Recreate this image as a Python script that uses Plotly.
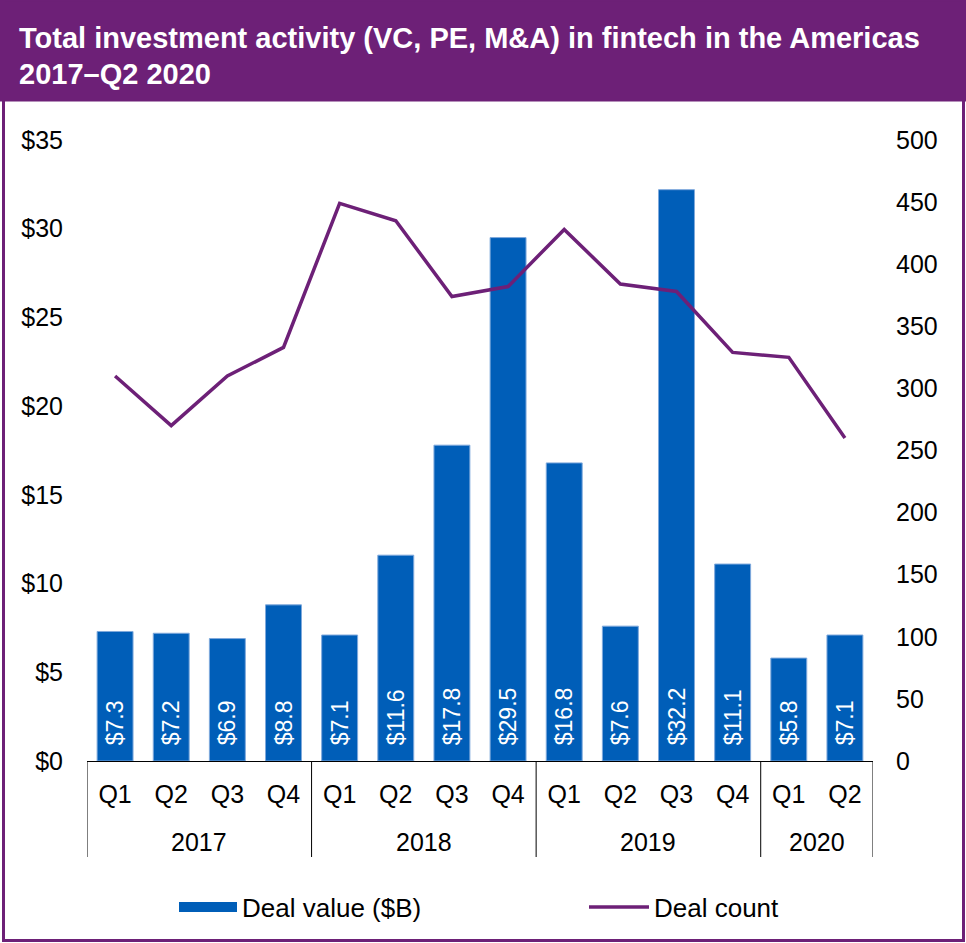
import plotly.graph_objects as go

years = ["2017"] * 4 + ["2018"] * 4 + ["2019"] * 4 + ["2020"] * 2
quarters = ["Q1", "Q2", "Q3", "Q4"] * 3 + ["Q1", "Q2"]
deal_value = [7.3, 7.2, 6.9, 8.8, 7.1, 11.6, 17.8, 29.5, 16.8, 7.6, 32.2, 11.1, 5.8, 7.1]
deal_count = [310, 270, 310, 333, 449, 435, 374, 382, 428, 384, 378, 329, 325, 260]

W, H = 966, 943
ML, MR, MT, MB = 87, 93, 140, 182
PW, PH = W - ML - MR, H - MT - MB

def px(x):
    return (x - ML) / PW

def py(y):
    return (H - MB - y) / PH

PURPLE = "#6D2077"
BLUE = "#005EB8"
FONT = "Liberation Sans, Arial, sans-serif"

idx = list(range(len(quarters)))

# year groups derived from data
groups = []
for i, yv in enumerate(years):
    if not groups or groups[-1][0] != yv:
        groups.append([yv, i, i])
    else:
        groups[-1][2] = i

fig = go.Figure()
fig.add_trace(go.Bar(
    x=idx, y=deal_value, name="Deal value ($B)", showlegend=False,
    marker=dict(color=BLUE, line=dict(color="#7FA9DC", width=1)),
    texttemplate="\u00a0\u00a0$%{y:.1f}", textposition="inside",
    insidetextanchor="start", textangle=-90,
    textfont=dict(color="white", size=23, family=FONT),
    yaxis="y",
))
# legend proxy for the bars (wide rectangle symbol)
fig.add_trace(go.Scatter(
    x=[None], y=[None], name="Deal value ($B)", mode="lines",
    line=dict(color=BLUE, width=16), legend="legend",
))
fig.add_trace(go.Scatter(
    x=idx, y=deal_count, name="Deal count", mode="lines",
    line=dict(color=PURPLE, width=3.5), yaxis="y2", legend="legend2",
))

shapes = [
    dict(type="rect", xref="paper", yref="paper", x0=px(0), x1=px(W), y0=py(101.5), y1=py(0),
         fillcolor=PURPLE, line=dict(width=0), layer="below"),
    dict(type="rect", xref="paper", yref="paper", x0=px(3.5), x1=px(963.5), y0=py(940.5), y1=py(0),
         fillcolor="rgba(0,0,0,0)", line=dict(color=PURPLE, width=3), layer="above"),
]
bounds = [g[1] - 0.5 for g in groups] + [groups[-1][2] + 0.5]
for b in bounds:
    shapes.append(dict(type="line", xref="x", yref="paper", x0=b, x1=b, y0=0, y1=py(857),
                       line=dict(color="black", width=1)))

annotations = [
    dict(x=(g[1] + g[2]) / 2, y=py(842), xref="x", yref="paper", text=g[0], showarrow=False,
         xanchor="center", yanchor="middle", font=dict(size=25, color="black", family=FONT))
    for g in groups
]
annotations.append(dict(
    x=px(17), y=py(49), xref="paper", yref="paper", xanchor="left", yanchor="bottom",
    text="<b>Total investment activity (VC, PE, M&A) in fintech in the Americas</b>",
    showarrow=False, font=dict(size=29, color="white", family=FONT), yshift=-7))
annotations.append(dict(
    x=px(17), y=py(85), xref="paper", yref="paper", xanchor="left", yanchor="bottom",
    text="<b>2017–Q2 2020</b>",
    showarrow=False, font=dict(size=29, color="white", family=FONT), yshift=-7))

fig.update_layout(
    width=W, height=H,
    margin=dict(l=ML, r=MR, t=MT, b=MB, autoexpand=False),
    paper_bgcolor="white", plot_bgcolor="white",
    font=dict(family=FONT, size=25, color="black"),
    bargap=0.36,
    showlegend=True,
    legend=dict(orientation="h", x=px(174), xanchor="left", y=py(907), yanchor="middle",
                font=dict(size=26), itemwidth=58, bgcolor="rgba(0,0,0,0)"),
    legend2=dict(orientation="h", x=px(584), xanchor="left", y=py(907), yanchor="middle",
                 font=dict(size=26), itemwidth=60, bgcolor="rgba(0,0,0,0)"),
    xaxis=dict(range=[-0.5, len(idx) - 0.5], tickvals=idx, ticktext=quarters,
               showline=True, linecolor="black", linewidth=1, ticks="", showgrid=False,
               zeroline=False, tickfont=dict(size=25), ticklabelstandoff=11, automargin=False),
    yaxis=dict(range=[0, 35], dtick=5, tickprefix="$", showgrid=False, zeroline=False,
               showline=False, ticks="", tickfont=dict(size=25), ticklabelstandoff=23,
               automargin=False),
    yaxis2=dict(range=[0, 500], dtick=50, overlaying="y", side="right", showgrid=False,
                zeroline=False, showline=False, ticks="", tickfont=dict(size=25),
                ticklabelstandoff=22, automargin=False),
    shapes=shapes,
    annotations=annotations,
)

fig.write_html("out.html", config={"displayModeBar": False},
               post_script="document.body.style.margin='0';")
